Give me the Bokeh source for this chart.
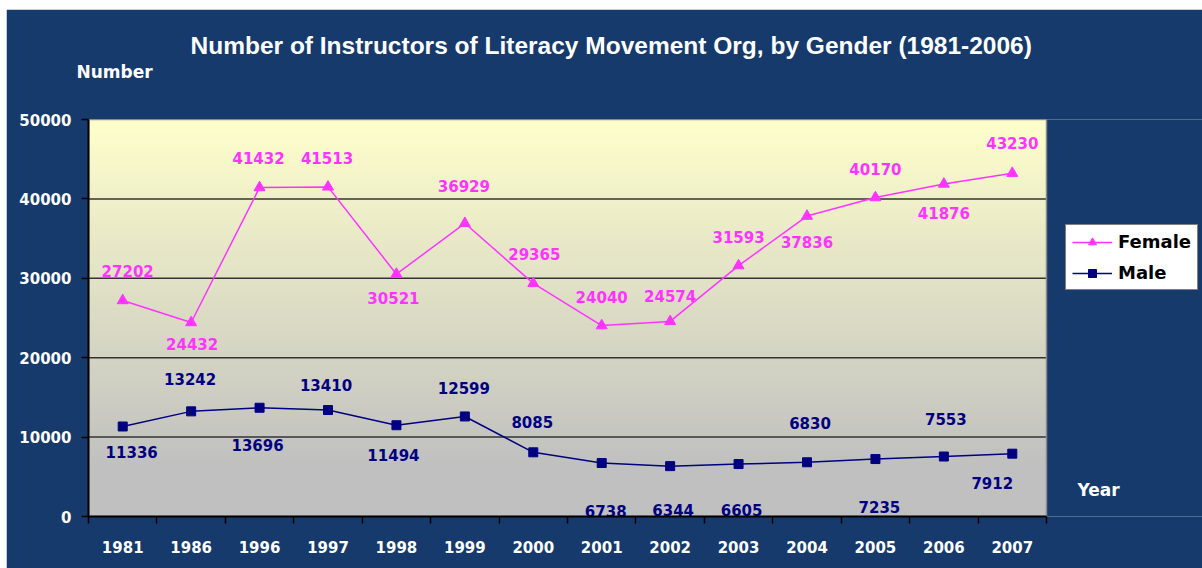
import numpy as np
from bokeh.plotting import figure
from bokeh.models import (FixedTicker, Legend, LegendItem, ColumnDataSource,
                          Range1d, LinearAxis, Title, Label)
from bokeh.core.properties import value
from bokeh.embed import file_html
from bokeh.resources import INLINE

years = ["1981", "1986", "1996", "1997", "1998", "1999", "2000", "2001",
         "2002", "2003", "2004", "2005", "2006", "2007"]
female = [27202, 24432, 41432, 41513, 30521, 36929, 29365, 24040, 24574,
          31593, 37836, 40170, 41876, 43230]
male = [11336, 13242, 13696, 13410, 11494, 12599, 8085, 6738, 6344, 6605,
        6830, 7235, 7553, 7912]
y_ticks = [0, 10000, 20000, 30000, 40000, 50000]
title_text = "Number of Instructors of Literacy Movement Org, by Gender (1981-2006)"

# label placement styling (pixels, screen: positive = down)
female_dy = [-30, 21, -30, -29, 24, -37, -29, -29, -25, -29, 26, -29, 29, -30]
female_dx = [5, 1, -1, -1, -3, -1, 1, 0, 0, 0, 0, 0, 0, 0]
male_dy = [26, -32, 37, -25, 30, -28, -30, 48, 44, 46, -39, 48, -38, 29]
male_dx = [9, -1, -2, -2, -3, -1, -1, 4, 3, 3, 3, 4, 2, -20]

BG = "#153a6b"
W, H = 1196, 559
N = len(years)
# the frame runs to the right edge; the plot area covers x in [0, N]
X_END = N * 1114 / 958

xs = [i + 0.5 for i in range(N)]

p = figure(width=W, height=H, output_backend="svg", toolbar_location=None,
           x_range=Range1d(0, X_END), y_range=Range1d(0, 50000),
           min_border_left=82, min_border_right=0, min_border_top=110,
           min_border_bottom=52, margin=(9, 0, 0, 6))
p.border_fill_color = BG
p.background_fill_color = BG
p.outline_line_color = None

# gradient background of plot area
n = 200
top = np.array([255, 255, 204])
bot = np.array([192, 192, 192])
img = np.zeros((n, 1), dtype=np.uint32)
view = img.view(dtype=np.uint8).reshape((n, 1, 4))
for r in range(n):
    frac = r / (n - 1)  # 0 bottom, 1 top
    t = min(max((frac - 0.12) / 0.88, 0), 1)
    c = bot + (top - bot) * t
    view[r, 0, 0] = int(c[0]); view[r, 0, 1] = int(c[1]); view[r, 0, 2] = int(c[2]); view[r, 0, 3] = 255
p.image_rgba(image=[img], x=0, y=0, dw=N, dh=50000, level="image")

# grid lines limited to the plot area, and its border
p.xgrid.visible = False
p.ygrid.visible = False
p.segment(x0=0, x1=N, y0=y_ticks[1:-1], y1=y_ticks[1:-1],
          line_color="#333333", line_width=1.5, level="underlay")
p.quad(left=0, right=N, bottom=0, top=y_ticks[-1], fill_color=None,
       line_color="#8a8a8a", line_width=1.5, level="underlay")

# axes
p.xaxis.ticker = FixedTicker(ticks=xs, minor_ticks=list(range(N + 1)))
p.xaxis.major_label_overrides = {x: y for x, y in zip(xs, years)}
p.xaxis.bounds = (0, N)
p.xaxis.major_tick_out = 0
p.xaxis.major_tick_in = 0
p.xaxis.minor_tick_out = 7
p.xaxis.minor_tick_in = 0
p.xaxis.minor_tick_line_color = "black"
p.xaxis.major_label_standoff = 17
p.yaxis.ticker = FixedTicker(ticks=y_ticks)
p.yaxis.minor_tick_line_color = None
p.yaxis.major_tick_out = 7
p.yaxis.major_tick_in = 0
p.yaxis.major_label_standoff = 10
for ax in (p.xaxis, p.yaxis):
    ax.axis_line_color = "black"
    ax.axis_line_width = 2
    ax.major_tick_line_color = "black"
    ax.major_tick_line_width = 1.5
    ax.minor_tick_line_width = 1.5
    ax.major_label_text_color = "white"
    ax.major_label_text_font = "DejaVu Sans"
    ax.major_label_text_font_style = "bold"
    ax.major_label_text_font_size = "15px"

FEM = "#ff33ff"
MAL = "#000080"

src_f = ColumnDataSource(dict(x=xs, y=female, t=[str(v) for v in female], dx=female_dx, dy=female_dy))
src_m = ColumnDataSource(dict(x=xs, y=male, t=[str(v) for v in male], dx=male_dx, dy=male_dy))

lf = p.line("x", "y", source=src_f, line_color=FEM, line_width=1.5)
sf = p.scatter("x", "y", source=src_f, marker="triangle", size=11,
               fill_color=FEM, line_color=FEM)
lm = p.line("x", "y", source=src_m, line_color=MAL, line_width=1.5)
sm = p.scatter("x", "y", source=src_m, marker="square", size=9,
               fill_color=MAL, line_color=MAL)

p.text("x", "y", text="t", source=src_f, x_offset="dx", y_offset="dy",
       text_align="center", text_baseline="middle", text_color=FEM,
       text_font=value("DejaVu Sans"),
       text_font_size="15px", text_font_style="bold")
p.text("x", "y", text="t", source=src_m, x_offset="dx", y_offset="dy",
       text_align="center", text_baseline="middle", text_color=MAL,
       text_font=value("DejaVu Sans"),
       text_font_size="15px", text_font_style="bold")

def text_axis(axis):
    axis.axis_line_color = None
    axis.major_tick_line_color = None
    axis.minor_tick_line_color = None
    axis.major_tick_in = 0
    axis.major_tick_out = 0
    axis.major_label_text_color = "white"
    axis.major_label_text_font = "DejaVu Sans"
    axis.major_label_text_font_style = "bold"
    axis.major_label_text_font_size = "17px"
    return axis

# "Number" label as a tick label of an axis above the plot
top_axis = text_axis(LinearAxis(ticker=FixedTicker(ticks=[0.38]),
                                major_label_overrides={0.38: "Number"},
                                major_label_standoff=38))
p.add_layout(top_axis, "above")

# "Year" label at the right of the x axis
p.add_layout(Label(x=(1098 - 88) * N / 958, y=3275, text="Year",
                   text_align="center", text_baseline="middle", text_color="white",
                   text_font="DejaVu Sans", text_font_style="bold",
                   text_font_size="17px"))

# legend (inside the frame, right of the plot area)
legend = Legend(items=[LegendItem(label="Female", renderers=[lf, sf]),
                       LegendItem(label="Male", renderers=[lm, sm])],
                location=(977, 226))
legend.label_text_font = "DejaVu Sans"
legend.label_text_font_style = "bold"
legend.label_text_font_size = "18px"
legend.label_text_color = "black"
legend.glyph_width = 40
legend.glyph_height = 20
legend.label_height = 20
legend.label_standoff = 6
legend.spacing = 10
legend.padding = 6
legend.margin = 0
legend.border_line_color = "black"
legend.background_fill_color = "white"
legend.background_fill_alpha = 1
p.add_layout(legend, "center")

# title
p.title = Title(text=title_text, align="left", offset=102, standoff=0,
                text_color="white", text_font="Liberation Sans",
                text_font_style="bold", text_font_size="24.5px")

open("out.html", "w").write(file_html(p, INLINE))
